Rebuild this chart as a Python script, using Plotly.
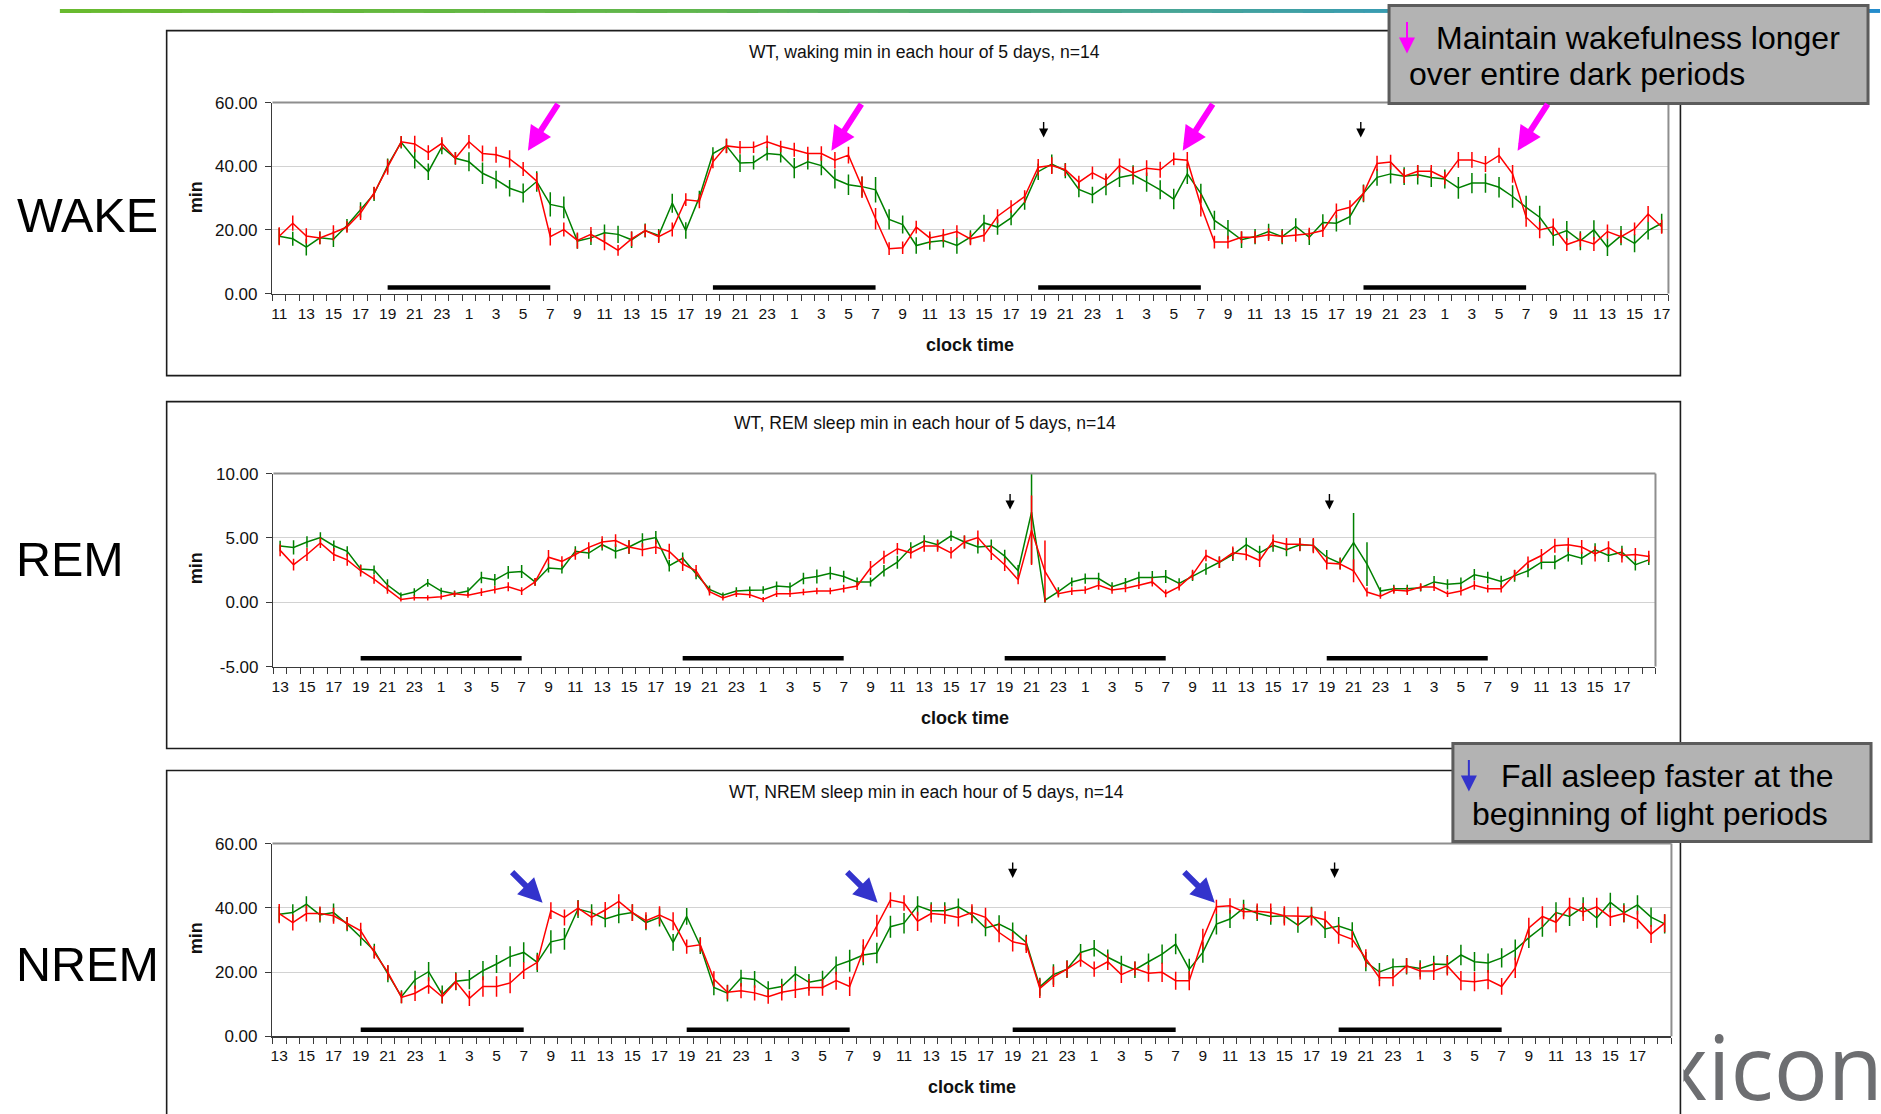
import plotly.graph_objects as go

W, H = 1881, 1114

# ---------------- data ----------------
N_CAT = 103
WAKE_START_HOUR = 11      # first category of the WAKE panel
SLEEP_START_HOUR = 13     # first category of REM / NREM panels

wake_red = [18.0, 22.1, 18.1, 17.5, 19.1, 20.9, 25.3, 31.6, 39.7, 47.7,
            47.0, 44.3, 47.2, 42.5, 47.7, 44.0, 43.6, 42.3, 39.1, 35.3,
            17.9, 20.1, 16.7, 18.6, 16.2, 13.6, 17.2, 19.8, 17.9, 20.1,
            29.5, 29.0, 41.4, 46.4, 45.9, 46.0, 47.7, 46.2, 45.2, 44.0,
            44.0, 41.9, 43.5, 33.4, 23.5, 14.1, 14.4, 20.9, 17.5, 18.3,
            19.5, 17.2, 18.3, 24.3, 27.3, 30.5, 39.7, 40.2, 38.9, 35.0,
            37.9, 35.7, 40.2, 37.9, 39.4, 38.9, 42.3, 41.9, 27.7, 16.2,
            16.2, 17.7, 17.7, 18.5, 17.9, 18.3, 18.8, 19.8, 26.0, 27.1,
            31.5, 40.9, 41.3, 36.9, 38.4, 38.4, 36.3, 42.0, 42.0, 40.7,
            43.4, 37.6, 24.0, 20.0, 21.0, 15.4, 16.9, 15.6, 19.5, 17.9,
            20.3, 25.0, 21.0]
wake_green = [18.0, 17.2, 14.6, 17.5, 17.1, 21.4, 26.3, 31.3, 40.2, 47.5,
              42.3, 38.3, 46.1, 42.5, 41.4, 37.8, 35.8, 33.1, 31.6, 35.2,
              28.0, 27.1, 16.5, 17.5, 19.1, 18.6, 16.9, 19.8, 18.3, 28.4,
              19.8, 30.3, 44.0, 46.4, 41.0, 41.2, 44.0, 43.6, 39.4, 41.4,
              40.2, 36.0, 34.2, 33.6, 32.6, 23.3, 21.7, 15.1, 16.2, 16.7,
              15.1, 17.7, 22.2, 20.9, 23.8, 28.7, 38.3, 40.7, 38.6, 32.7,
              31.0, 33.9, 36.5, 37.3, 35.0, 32.6, 29.7, 37.6, 31.5, 23.0,
              20.1, 16.9, 17.9, 19.5, 17.9, 21.1, 17.7, 22.3, 22.1, 24.2,
              31.5, 36.5, 37.6, 36.9, 37.3, 36.5, 36.0, 33.2, 34.7, 34.7,
              33.4, 30.5, 27.1, 24.0, 18.2, 19.8, 16.6, 20.0, 14.6, 18.2,
              15.8, 19.8, 22.1]
wake_red_err = [2.8, 2.4, 2.4, 2.0, 2.4, 1.8, 2.2, 2.0, 2.4, 1.8,
                2.6, 2.3, 1.9, 1.9, 2.1, 2.5, 2.5, 2.7, 2.2, 2.6,
                2.8, 2.2, 2.5, 2.3, 2.6, 1.7, 2.3, 2.0, 2.0, 2.2,
                2.0, 2.2, 2.0, 2.3, 2.0, 1.8, 2.0, 1.8, 2.2, 2.1,
                2.3, 2.6, 2.6, 3.4, 3.4, 2.0, 2.0, 2.0, 2.0, 2.0,
                2.0, 2.0, 2.0, 2.2, 2.0, 2.0, 2.6, 2.6, 2.0, 2.0,
                2.0, 2.0, 2.2, 2.0, 2.5, 2.5, 2.0, 2.6, 3.5, 2.0,
                2.0, 1.9, 1.9, 2.0, 1.9, 2.0, 1.9, 2.0, 2.3, 2.2,
                2.5, 2.4, 2.3, 2.2, 2.0, 2.0, 2.0, 2.5, 2.5, 2.5,
                2.4, 2.8, 3.0, 2.6, 2.6, 2.0, 2.2, 2.2, 2.2, 2.0,
                2.0, 2.5, 2.2]
wake_green_err = [2.6, 2.2, 2.6, 2.0, 2.5, 2.0, 2.4, 2.2, 2.2, 1.9,
                  3.0, 2.6, 2.3, 2.0, 3.0, 3.4, 2.8, 2.6, 3.0, 3.2,
                  3.8, 3.4, 2.4, 2.2, 2.6, 2.7, 2.6, 2.2, 2.0, 3.0,
                  2.6, 2.0, 2.0, 2.2, 2.8, 2.2, 2.2, 2.4, 3.2, 2.4,
                  3.0, 3.0, 3.2, 3.2, 4.0, 3.2, 2.8, 2.6, 2.4, 2.2,
                  2.6, 2.2, 2.6, 2.4, 2.3, 2.4, 2.6, 3.0, 2.4, 2.4,
                  2.6, 3.0, 3.0, 3.0, 3.0, 3.0, 3.2, 3.2, 3.0, 3.0,
                  3.0, 2.6, 2.4, 2.4, 2.4, 2.6, 2.4, 2.6, 2.6, 2.6,
                  2.8, 2.6, 3.0, 2.8, 3.0, 3.0, 3.0, 3.4, 3.2, 3.0,
                  3.2, 3.5, 3.6, 3.6, 3.2, 3.0, 3.0, 3.0, 2.8, 3.0,
                  2.8, 2.8, 3.0]

rem_red = [4.03, 2.92, 3.71, 4.61, 3.71, 3.29, 2.45, 1.79, 1.00, 0.21,
           0.34, 0.34, 0.42, 0.66, 0.55, 0.79, 0.97, 1.21, 0.87, 1.58,
           3.50, 3.18, 3.71, 4.26, 4.68, 4.79, 4.29, 4.08, 4.29, 3.95,
           2.97, 2.45, 0.82, 0.34, 0.66, 0.58, 0.21, 0.66, 0.66, 0.79,
           0.87, 0.87, 1.05, 1.26, 2.66, 3.50, 4.16, 3.84, 4.37, 4.37,
           3.84, 4.68, 5.03, 3.84, 2.92, 1.74, 5.60, 2.39, 0.66, 0.87,
           0.95, 1.32, 0.95, 1.08, 1.32, 1.58, 0.68, 1.21, 2.13, 3.63,
           3.11, 3.84, 3.71, 3.24, 4.76, 4.50, 4.50, 4.40, 3.05, 2.97,
           2.45, 0.79, 0.47, 0.95, 0.87, 1.18, 1.18, 0.66, 0.87, 1.32,
           1.05, 1.05, 2.13, 3.11, 3.63, 4.39, 4.47, 4.29, 3.76, 4.24,
           3.63, 3.71, 3.55]
rem_green = [4.37, 4.26, 4.68, 5.03, 4.39, 3.95, 2.58, 2.50, 1.34, 0.55,
             0.79, 1.50, 0.87, 0.66, 0.87, 1.92, 1.74, 2.32, 2.39, 1.58,
             2.66, 2.58, 3.95, 3.82, 4.47, 3.95, 4.29, 4.82, 5.03, 2.84,
             3.42, 2.18, 1.00, 0.55, 0.87, 0.93, 0.95, 1.26, 1.18, 1.84,
             2.00, 2.26, 2.00, 1.58, 1.58, 2.45, 3.11, 4.21, 4.76, 4.47,
             5.16, 4.68, 4.29, 4.37, 3.58, 2.45, 7.00, 0.16, 0.82, 1.58,
             1.84, 1.84, 1.21, 1.53, 1.92, 1.92, 2.00, 1.47, 2.05, 2.58,
             3.11, 3.71, 4.47, 3.84, 4.42, 4.08, 4.47, 4.42, 3.50, 3.03,
             4.63, 2.97, 0.87, 1.05, 1.05, 1.13, 1.58, 1.39, 1.47, 2.13,
             1.92, 1.61, 2.05, 2.45, 3.11, 3.11, 3.71, 3.42, 4.08, 3.63,
             3.89, 2.92, 3.29]
rem_red_err = [0.45, 0.45, 0.5, 0.4, 0.5, 0.45, 0.45, 0.35, 0.35, 0.15,
               0.2, 0.2, 0.2, 0.2, 0.2, 0.3, 0.3, 0.35, 0.3, 0.3,
               0.55, 0.4, 0.4, 0.4, 0.45, 0.5, 0.5, 0.5, 0.55, 0.6,
               0.55, 0.45, 0.3, 0.2, 0.25, 0.25, 0.2, 0.25, 0.25, 0.25,
               0.25, 0.25, 0.3, 0.3, 0.55, 0.5, 0.45, 0.45, 0.45, 0.45,
               0.45, 0.5, 0.55, 0.55, 0.5, 0.35, 2.7, 2.4, 0.3, 0.3,
               0.3, 0.35, 0.3, 0.3, 0.3, 0.35, 0.3, 0.3, 0.4, 0.45,
               0.45, 0.5, 0.45, 0.5, 0.5, 0.5, 0.5, 0.6, 0.5, 0.45,
               0.9, 0.35, 0.2, 0.3, 0.3, 0.3, 0.3, 0.25, 0.35, 0.35,
               0.3, 0.3, 0.4, 0.45, 0.5, 0.55, 0.55, 0.55, 0.6, 0.5,
               0.55, 0.5, 0.45]
rem_green_err = [0.4, 0.55, 0.45, 0.4, 0.4, 0.4, 0.35, 0.35, 0.45, 0.2,
                 0.3, 0.3, 0.25, 0.25, 0.3, 0.45, 0.45, 0.5, 0.5, 0.3,
                 0.35, 0.35, 0.4, 0.45, 0.45, 0.55, 0.55, 0.55, 0.5, 0.45,
                 0.45, 0.4, 0.3, 0.2, 0.3, 0.3, 0.3, 0.35, 0.35, 0.45,
                 0.55, 0.5, 0.45, 0.35, 0.35, 0.45, 0.5, 0.45, 0.45, 0.4,
                 0.4, 0.5, 0.5, 0.5, 0.5, 0.45, 4.0, 0.2, 0.35, 0.35,
                 0.4, 0.45, 0.35, 0.35, 0.45, 0.5, 0.5, 0.4, 0.4, 0.45,
                 0.45, 0.5, 0.55, 0.55, 0.5, 0.5, 0.5, 0.5, 0.55, 0.45,
                 2.3, 1.7, 0.3, 0.3, 0.3, 0.3, 0.45, 0.4, 0.45, 0.45,
                 0.45, 0.45, 0.45, 0.5, 0.55, 0.55, 0.55, 0.5, 0.5, 0.5,
                 0.5, 0.45, 0.4]

nrem_red = [38.2, 35.4, 38.2, 38.2, 37.5, 35.1, 32.8, 26.1, 19.9, 12.1,
            13.4, 15.8, 12.3, 17.0, 11.8, 15.5, 15.5, 16.6, 20.4, 23.0,
            39.1, 37.0, 39.9, 37.0, 39.3, 42.0, 38.5, 36.0, 37.7, 35.8,
            27.9, 28.5, 17.8, 13.7, 14.2, 13.5, 12.3, 13.7, 14.5, 15.2,
            15.2, 17.3, 15.5, 26.6, 34.4, 42.4, 41.5, 35.8, 38.2, 37.8,
            37.0, 38.5, 37.0, 32.3, 29.4, 28.5, 14.9, 18.5, 20.9, 23.8,
            20.9, 23.2, 19.2, 21.1, 19.6, 19.9, 17.3, 17.3, 30.3, 40.3,
            40.6, 38.8, 38.9, 38.5, 37.5, 37.3, 37.3, 36.3, 31.8, 30.2,
            24.3, 18.2, 18.2, 21.9, 20.3, 20.3, 21.9, 17.3, 17.0, 17.6,
            15.5, 21.3, 33.7, 37.3, 35.5, 40.3, 38.7, 40.3, 37.1, 38.2,
            36.3, 31.8, 35.2]
nrem_green = [38.0, 38.5, 41.1, 37.8, 38.5, 34.9, 30.8, 26.6, 19.4, 12.3,
              17.6, 20.1, 13.0, 17.1, 17.6, 20.4, 22.5, 24.8, 26.1, 23.0,
              29.4, 30.3, 39.6, 38.5, 36.5, 37.8, 38.5, 35.4, 37.0, 29.2,
              37.3, 28.2, 15.2, 13.4, 18.1, 17.7, 14.7, 15.5, 19.4, 16.8,
              17.6, 22.0, 23.5, 25.3, 25.9, 34.1, 35.2, 40.6, 39.1, 39.1,
              40.3, 37.8, 33.7, 34.9, 32.8, 29.2, 15.4, 19.2, 20.9, 26.1,
              27.4, 24.6, 22.5, 20.7, 23.2, 25.6, 28.7, 20.9, 26.1, 34.9,
              36.5, 39.9, 38.3, 37.3, 37.5, 34.6, 37.7, 33.4, 34.3, 32.9,
              23.2, 20.0, 21.6, 21.8, 21.1, 22.5, 22.3, 25.3, 23.2, 22.8,
              24.4, 26.9, 30.7, 34.0, 38.5, 37.3, 40.3, 36.8, 41.7, 38.4,
              40.9, 37.1, 35.0]
nrem_red_err = [3.0, 2.5, 2.5, 2.2, 2.5, 2.0, 2.5, 2.0, 2.3, 1.8,
                2.4, 2.6, 2.0, 2.6, 2.4, 3.2, 3.2, 3.2, 2.6, 2.4,
                2.6, 2.5, 2.4, 2.5, 2.5, 2.2, 2.6, 2.6, 2.8, 2.8,
                2.2, 2.2, 2.4, 2.2, 2.4, 2.4, 2.2, 2.6, 2.6, 2.6,
                2.6, 2.8, 3.0, 3.6, 3.4, 2.4, 2.4, 3.0, 2.8, 2.8,
                2.8, 2.6, 3.0, 3.0, 3.0, 2.6, 3.0, 3.2, 2.6, 2.2,
                2.4, 2.6, 2.6, 2.2, 2.6, 3.0, 2.8, 3.0, 3.2, 2.2,
                2.4, 2.4, 2.4, 2.8, 3.0, 3.0, 2.8, 2.6, 3.0, 2.6,
                2.8, 2.6, 2.6, 2.4, 2.6, 2.8, 3.0, 3.0, 3.0, 3.0,
                2.6, 3.2, 3.2, 3.2, 3.2, 2.8, 2.8, 2.8, 2.8, 2.6,
                2.8, 2.8, 2.8]
nrem_green_err = [2.4, 2.6, 2.5, 2.4, 2.8, 2.2, 2.6, 2.2, 2.6, 2.0,
                  2.8, 3.0, 2.8, 2.8, 3.0, 3.0, 2.8, 3.2, 3.2, 3.0,
                  3.6, 3.4, 2.8, 2.6, 2.6, 2.6, 2.6, 2.4, 2.8, 2.6,
                  2.6, 2.6, 2.4, 2.6, 2.6, 2.6, 2.4, 2.4, 2.4, 2.6,
                  2.8, 2.8, 3.4, 3.2, 3.2, 3.4, 3.2, 3.0, 2.6, 2.6,
                  2.6, 2.6, 2.6, 2.8, 2.6, 2.4, 2.8, 3.2, 2.8, 2.6,
                  2.6, 2.4, 2.6, 2.6, 2.6, 3.0, 3.2, 3.2, 3.2, 3.2,
                  2.8, 2.6, 2.4, 2.6, 2.4, 2.4, 2.6, 2.8, 2.8, 2.6,
                  3.0, 2.8, 2.6, 2.6, 2.6, 2.6, 3.0, 3.2, 3.0, 3.0,
                  3.0, 3.2, 3.2, 3.0, 3.2, 3.0, 3.0, 3.0, 3.0, 3.0,
                  3.0, 3.0, 3.0]

# dark periods (category index of 19:00 start and 07:00 end)
wake_dark = [(8, 20), (32, 44), (56, 68), (80, 92)]
sleep_dark = [(6, 18), (30, 42), (54, 66), (78, 90)]
# small black markers at the start of dark periods 3 and 4
wake_marks = [56.4, 79.8]
rem_marks = [54.4, 78.2]
nrem_marks = [54.0, 77.7]
# highlighting arrows (category, value)
wake_pink = [(18.35, 44.9), (40.74, 44.9), (66.66, 44.9), (91.37, 44.9)]
nrem_blue = [(19.39, 41.6), (44.06, 41.6), (68.88, 41.6)]

series = [wake_red, wake_green, wake_red_err, wake_green_err,
          rem_red, rem_green, rem_red_err, rem_green_err,
          nrem_red, nrem_green, nrem_red_err, nrem_green_err]
for s in series:
    assert len(s) == N_CAT, len(s)

wake_hours = [(WAKE_START_HOUR + i) % 24 for i in range(N_CAT)]
sleep_hours = [(SLEEP_START_HOUR + i) % 24 for i in range(N_CAT)]
wake_tickvals = list(range(0, N_CAT, 2))
sleep_tickvals = list(range(0, N_CAT - 2, 2))

RED = "#ff0000"
GREEN = "#008000"
FONT = "Liberation Sans, Arial, Helvetica, sans-serif"

# vertical calibration of the page photograph (measured on previous renders)
SY, OY = 0.983, 8.4


def px(x):
    return x / W


def vy(y):
    return (y - OY) / SY


def py(y):
    return 1 - vy(y) / H


def py_raw(y):
    return 1 - y / H


# panel geometry in (target) pixels
geo = {
    "wake": dict(x0=271, x1=1670, y0=102, y1=293),
    "rem": dict(x0=272, x1=1657, y0=473, y1=666),
    "nrem": dict(x0=271, x1=1673, y0=843, y1=1035.7),
}

fig = go.Figure()


def add_pair(red, green, rerr, gerr, xa, ya):
    for y, e, c in ((green, gerr, GREEN), (red, rerr, RED)):
        fig.add_trace(go.Scatter(
            x=list(range(N_CAT)), y=y, mode="lines",
            line=dict(color=c, width=1.5),
            error_y=dict(type="data", array=e, visible=True, color=c,
                         thickness=1.5, width=0),
            xaxis=xa, yaxis=ya, hoverinfo="skip", showlegend=False,
            cliponaxis=True))


add_pair(wake_red, wake_green, wake_red_err, wake_green_err, "x", "y")
add_pair(rem_red, rem_green, rem_red_err, rem_green_err, "x2", "y2")
add_pair(nrem_red, nrem_green, nrem_red_err, nrem_green_err, "x3", "y3")

# logo text, clipped by its own (invisible) subplot
LOGO_TOP = 1002.6
fig.add_trace(go.Scatter(
    x=[1.0204], y=[(H - 1087) / (H - LOGO_TOP)], mode="text", text=["Lexicon"],
    textposition="middle left",
    textfont=dict(family="Open Sans, sans-serif", size=90, color="#6d6e71"),
    xaxis="x4", yaxis="y4", hoverinfo="skip", showlegend=False,
    cliponaxis=True))


def xcfg(g, tickvals, hours, anchor):
    return dict(
        domain=[px(g["x0"]), px(g["x1"])], range=[-0.5, N_CAT - 0.5],
        anchor=anchor, tickmode="array", tickvals=tickvals,
        ticktext=[str(hours[i]) for i in tickvals], ticks="",
        ticklabelstandoff=5,
        showline=True, linecolor="#3a3a3a", linewidth=1.5,
        showgrid=False, zeroline=False,
        tickfont=dict(size=15.5, color="#111", family=FONT),
        minor=dict(ticks="outside", ticklen=6, tickwidth=1,
                   tickcolor="#3a3a3a", tickmode="linear", tick0=-0.5,
                   dtick=1, showgrid=False),
        fixedrange=True)


def ycfg(g, rng, vals, texts, anchor):
    return dict(
        domain=[py(g["y1"]), py(g["y0"])], range=rng, anchor=anchor,
        tickmode="array", tickvals=vals, ticktext=texts,
        ticks="outside", ticklen=6, tickcolor="#3a3a3a", tickwidth=1,
        ticklabelstandoff=4,
        showline=True, linecolor="#3a3a3a", linewidth=1.5,
        showgrid=True, gridcolor="#d2d2d2", gridwidth=1, zeroline=False,
        tickfont=dict(size=17, color="#111", family=FONT),
        fixedrange=True)


wake_yvals = [0, 20, 40, 60]
wake_ytext = ["0.00", "20.00", "40.00", "60.00"]
rem_yvals = [-5, 0, 5, 10]
rem_ytext = ["-5.00", "0.00", "5.00", "10.00"]

shapes = []
annotations = []

# top gradient banner
stops = [(0.0, (104, 186, 46)), (0.35, (96, 182, 78)), (0.6, (72, 166, 148)),
         (0.8, (48, 150, 192)), (1.0, (36, 140, 205))]
nseg = 60
bx0, bx1 = 58, W
for k in range(nseg):
    t = (k + 0.5) / nseg
    for (t0, c0), (t1, c1) in zip(stops[:-1], stops[1:]):
        if t0 <= t <= t1:
            f = (t - t0) / (t1 - t0)
            col = tuple(int(round(a + (b - a) * f)) for a, b in zip(c0, c1))
            break
    xa = bx0 + (bx1 - bx0) * k / nseg
    xb = bx0 + (bx1 - bx0) * (k + 1) / nseg + 1
    shapes.append(dict(type="rect", xref="paper", yref="paper",
                       x0=px(xa), x1=px(xb), y0=py_raw(4), y1=py_raw(0),
                       line=dict(width=0), fillcolor="rgb(%d,%d,%d)" % col,
                       layer="below"))

# outer panel frames
for (t, b) in ((30, 375), (401, 748), (770, 1130)):
    shapes.append(dict(type="rect", xref="paper", yref="paper",
                       x0=px(165), x1=px(1682), y0=py(b), y1=py(t),
                       line=dict(color="#1c1c1c", width=1.6),
                       fillcolor="rgba(0,0,0,0)", layer="below"))

# plot-area top/right borders (gray)
for g in geo.values():
    shapes.append(dict(type="line", xref="paper", yref="paper",
                       x0=px(g["x0"]), x1=px(g["x1"]), y0=py(g["y0"]), y1=py(g["y0"]),
                       line=dict(color="#8e8e8e", width=2), layer="above"))
    shapes.append(dict(type="line", xref="paper", yref="paper",
                       x0=px(g["x1"]), x1=px(g["x1"]), y0=py(g["y1"]), y1=py(g["y0"]),
                       line=dict(color="#8e8e8e", width=2), layer="above"))

# dark-period bars
for (s, e) in wake_dark:
    shapes.append(dict(type="line", xref="x", yref="y", x0=s, x1=e, y0=1.9, y1=1.9,
                       line=dict(color="#000", width=4.5)))
for (s, e) in sleep_dark:
    shapes.append(dict(type="line", xref="x2", yref="y2", x0=s, x1=e, y0=-4.35, y1=-4.35,
                       line=dict(color="#000", width=4.5)))
    shapes.append(dict(type="line", xref="x3", yref="y3", x0=s, x1=e, y0=2.0, y1=2.0,
                       line=dict(color="#000", width=4.5)))

# callout boxes
shapes.append(dict(type="rect", xref="paper", yref="paper",
                   x0=px(1390), x1=px(1870), y0=py(103), y1=py(5),
                   line=dict(color="#5c5c5c", width=3), fillcolor="#b3b3b3",
                   layer="above"))
shapes.append(dict(type="rect", xref="paper", yref="paper",
                   x0=px(1454), x1=px(1873), y0=py(841), y1=py(743),
                   line=dict(color="#5c5c5c", width=3), fillcolor="#b3b3b3",
                   layer="above"))


def text(x, y, s, size, xanchor="center", bold=False, angle=0, color="#111"):
    if bold:
        s = "<b>%s</b>" % s
    annotations.append(dict(xref="paper", yref="paper", x=px(x), y=py(y), text=s,
                            showarrow=False, xanchor=xanchor, yanchor="middle",
                            textangle=angle,
                            font=dict(family=FONT, size=size, color=color)))


# titles and axis labels
text(924, 51, "WT, waking min in each hour of 5 days, n=14", 17.6)
text(925, 422, "WT, REM sleep min in each hour of 5 days, n=14", 17.6)
text(926, 791, "WT, NREM sleep min in each hour of 5 days, n=14", 17.6)
for y in (197, 568, 938):
    text(194, y, "min", 18, bold=True, angle=-90)
text(970, 344, "clock time", 18, bold=True)
text(965, 717, "clock time", 18, bold=True)
text(972, 1086, "clock time", 18, bold=True)

# big row labels
text(13, 214, "WAKE", 48.5, xanchor="left", color="#000")
text(12, 558, "REM", 48.5, xanchor="left", color="#000")
text(12, 963, "NREM", 48.5, xanchor="left", color="#000")

# callout texts
text(1435, 37, "Maintain wakefulness longer", 32, xanchor="left", color="#000")
text(1408, 73, "over entire dark periods", 32, xanchor="left", color="#000")
text(1500, 775, "Fall asleep faster at the", 32, xanchor="left", color="#000")
text(1471, 813, "beginning of light periods", 32, xanchor="left", color="#000")

# callout legend arrows
annotations.append(dict(xref="paper", yref="paper", x=px(1408), y=py(53), ax=0, ay=-33,
                        text="", showarrow=True, arrowhead=2, arrowsize=1.6,
                        arrowwidth=2, arrowcolor="#ff00ff"))
annotations.append(dict(xref="paper", yref="paper", x=px(1470), y=py(791), ax=0, ay=-33,
                        text="", showarrow=True, arrowhead=2, arrowsize=1.6,
                        arrowwidth=2, arrowcolor="#3333cc"))

# black start markers
for xr, yr, xs, yv in (("x", "y", wake_marks, 49.0),
                       ("x2", "y2", rem_marks, 7.2),
                       ("x3", "y3", nrem_marks, 49.3)):
    for xv in xs:
        annotations.append(dict(xref=xr, yref=yr, x=xv, y=yv, ax=0, ay=-17,
                                text="", showarrow=True, arrowhead=2,
                                arrowsize=1.3, arrowwidth=1.4, arrowcolor="#000"))

# highlighting arrows
for (xv, yv) in wake_pink:
    annotations.append(dict(xref="x", yref="y", x=xv, y=yv, ax=31, ay=-48,
                            text="", showarrow=True, arrowhead=2, arrowsize=0.8,
                            arrowwidth=6, arrowcolor="#ff00ff"))
for (xv, yv) in nrem_blue:
    annotations.append(dict(xref="x3", yref="y3", x=xv, y=yv, ax=-32, ay=-32,
                            text="", showarrow=True, arrowhead=2, arrowsize=0.8,
                            arrowwidth=6, arrowcolor="#3333cc"))

fig.update_layout(
    width=W, height=H, autosize=False,
    margin=dict(l=0, r=0, t=0, b=0, pad=0),
    paper_bgcolor="white", plot_bgcolor="white",
    showlegend=False, hovermode=False,
    font=dict(family=FONT, color="#111"),
    xaxis=xcfg(geo["wake"], wake_tickvals, wake_hours, "y"),
    yaxis=ycfg(geo["wake"], [0, 60], wake_yvals, wake_ytext, "x"),
    xaxis2=xcfg(geo["rem"], sleep_tickvals, sleep_hours, "y2"),
    yaxis2=ycfg(geo["rem"], [-5, 10], rem_yvals, rem_ytext, "x2"),
    xaxis3=xcfg(geo["nrem"], sleep_tickvals, sleep_hours, "y3"),
    yaxis3=ycfg(geo["nrem"], [0, 60], wake_yvals, wake_ytext, "x3"),
    xaxis4=dict(domain=[px(1685), 1], range=[0, 1], anchor="y4", visible=False,
                fixedrange=True),
    yaxis4=dict(domain=[0, py_raw(LOGO_TOP)], range=[0, 1], anchor="x4",
                visible=False, fixedrange=True),
    shapes=shapes, annotations=annotations,
)

# place the figure flush with the page's top-left corner, page exactly W x H
post = (
    "var st=document.createElement('style');"
    "st.innerHTML='html,body{margin:0 !important;padding:0 !important;"
    "overflow:hidden !important;width:%dpx;height:%dpx;}';"
    "document.head.appendChild(st);"
    "var d=document.getElementById('{plot_id}');"
    "var p=d.parentElement;"
    "p.style.margin='0';p.style.padding='0';p.style.position='absolute';"
    "p.style.left='0px';p.style.top='0px';p.style.width='%dpx';p.style.height='%dpx';"
    "p.style.overflow='hidden';"
    "d.style.position='absolute';d.style.left='0px';d.style.top='0px';"
    "window.scrollTo(0,0);" % (W, H, W, H)
)

fig.write_html("out.html", config={"displayModeBar": False, "staticPlot": True},
               post_script=post)
